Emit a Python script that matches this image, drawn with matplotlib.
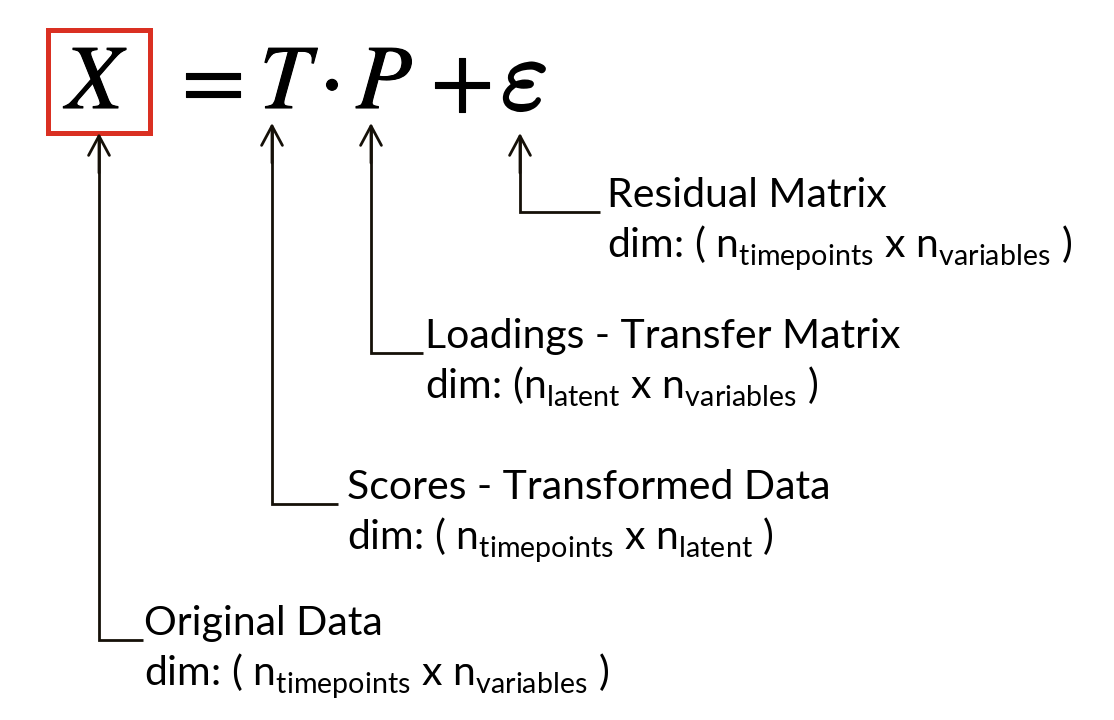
import matplotlib
matplotlib.use("Agg")
import matplotlib.pyplot as plt
import matplotlib.patheffects as pe

plt.rcParams['mathtext.fontset'] = 'custom'
plt.rcParams['mathtext.rm'] = 'Lato'
plt.rcParams['mathtext.it'] = 'Lato:italic'
plt.rcParams['mathtext.default'] = 'regular'
try:
    import matplotlib._mathtext as _mt
    _mt.FontConstantsBase.sub1 = 0.42
    _mt.FontConstantsBase.sub2 = 0.55
except Exception:
    pass

# equation terms (symbol, italic?)
terms = ["X", "=", "T", "\u22c5", "P", "+"]
term_italic = [True, False, True, False, True, False]
term_x = [94, 213, 285, 332, 384, 462]
eps_term = r"$\mathit{\varepsilon}$"
eps_x = 524

# annotation labels (title, dimension line)
titles = ["Residual Matrix", "Loadings - Transfer Matrix",
          "Scores - Transformed Data", "Original Data"]
dims = [r"dim: ( $n_{timepoints}$ x $n_{variables}$ )",
        r"dim: ($n_{latent}$ x $n_{variables}$ )",
        r"dim: ( $n_{timepoints}$ x $n_{latent}$ )",
        r"dim: ( $n_{timepoints}$ x $n_{variables}$ )"]

# connector geometry: arrow x, arrow tip y, elbow y, elbow end x, text x
arrow_x = [520, 371, 272, 99]
tip_y = [133, 123, 123, 133]
elbow_y = [212, 353, 504, 640]
elbow_end = [600, 423, 338, 143]
text_x = [607, 425, 347, 144]

fig = plt.figure(figsize=(11.14, 7.2), dpi=100)
fig.patch.set_facecolor('white')
ax = fig.add_axes([0, 0, 1, 1])
ax.set_xlim(0, 1114)
ax.set_ylim(720, 0)
ax.axis('off')

for t, it, x in zip(terms, term_italic, term_x):
    ax.text(x, 108, t, fontsize=66, family='STIXGeneral',
            fontstyle='italic' if it else 'normal',
            ha='center', va='baseline', color='black',
            path_effects=[pe.withStroke(linewidth=0.8, foreground='black')])
ax.text(eps_x, 109, eps_term, fontsize=72, math_fontfamily='cm',
        ha='center', va='baseline', color='black',
        path_effects=[pe.withStroke(linewidth=2.2, foreground='black')])

ax.add_patch(plt.Rectangle((47.5, 29.5), 102, 103, fill=False,
                           edgecolor='#DA3022', linewidth=3.6, joinstyle='miter'))

lw = 2.0
col = '#151008'
for axx, ty, ey, ex, tx, ttl, dm in zip(arrow_x, tip_y, elbow_y, elbow_end, text_x, titles, dims):
    ax.plot([axx, axx, ex], [ty + 4, ey, ey], color=col, lw=lw,
            solid_capstyle='butt', solid_joinstyle='miter')
    ax.annotate("", xy=(axx, ty), xytext=(axx, ty + 40),
                arrowprops=dict(arrowstyle='->,head_length=1.4,head_width=0.75',
                                lw=lw, color=col, shrinkA=0, shrinkB=0))
    ax.text(tx, ey - 5, ttl, fontsize=29.5, family='Lato', ha='left',
            va='baseline', color='black')
    ax.text(tx, ey + 45, dm, fontsize=29.5, family='Lato', ha='left',
            va='baseline', color='black')

fig.savefig("out.png", dpi=100, facecolor='white')
